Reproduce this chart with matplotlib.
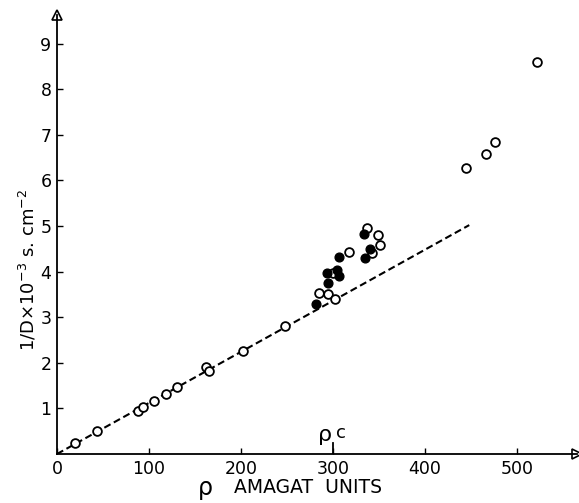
import matplotlib
matplotlib.use('Agg')
import matplotlib.pyplot as plt

# open circles
open_rho = [20, 44, 88, 94, 105, 119, 130, 162, 165, 202, 248, 285, 294, 302, 300,
            317, 337, 342, 349, 351, 444, 466, 476, 522]
open_inv_d = [0.24, 0.51, 0.95, 1.03, 1.16, 1.31, 1.47, 1.91, 1.81, 2.26, 2.81, 3.54, 3.51, 3.39, 3.96,
              4.44, 4.96, 4.41, 4.80, 4.58, 6.28, 6.59, 6.85, 8.60]

# filled circles
filled_rho = [281, 295, 293, 304, 306, 307, 334, 335, 340]
filled_inv_d = [3.29, 3.75, 3.96, 4.04, 3.90, 4.32, 4.83, 4.29, 4.50]

# dashed reference line
line_rho = [0, 448]
line_inv_d = [0, 5.02]

x_ticks = [0, 100, 200, 300, 400, 500]
y_ticks = [1, 2, 3, 4, 5, 6, 7, 8, 9]
rho_c = 300

plt.rcParams['font.family'] = ['DejaVu Sans']

fig = plt.figure(figsize=(5.79, 5.03), dpi=100)
ax = fig.add_axes([0.0984, 0.0974, 0.898, 0.873])

ax.plot(line_rho, line_inv_d, color='black', lw=1.5, dashes=(3.4, 1.8))
ax.plot(open_rho, open_inv_d, 'o', ms=6.3, mfc='white', mec='black', mew=1.3, zorder=3)
ax.plot(filled_rho, filled_inv_d, 'o', ms=6.3, mfc='black', mec='black', mew=1.0, zorder=3)

ax.set_xlim(0, 565)
ax.set_ylim(0, 9.63)
ax.set_xticks(x_ticks)
ax.set_yticks(y_ticks)
ax.tick_params(direction='in', length=4, width=1, labelsize=12.5, pad=4)
for s in ['top', 'right']:
    ax.spines[s].set_visible(False)
for s in ['left', 'bottom']:
    ax.spines[s].set_linewidth(1.3)

# axis arrows
ax.plot(1, 0, '>', ms=7, mfc='white', mec='black', mew=1.2, transform=ax.transAxes, clip_on=False)
ax.plot(0, 1, '^', ms=7, mfc='white', mec='black', mew=1.2, transform=ax.transAxes, clip_on=False)

# rho_c marker
ax.plot([rho_c, rho_c], [0, 0.25], color='black', lw=1.3)
ax.text(rho_c - 1, 0.2, 'ρ', fontsize=16, ha='right', va='bottom')
ax.text(rho_c + 3, 0.27, 'c', fontsize=13, ha='left', va='bottom')

ax.set_ylabel(r'1/D$\times$10$^{-3}$ s. cm$^{-2}$', fontsize=13)
ax.yaxis.set_label_coords(-0.035, 0.42)

fig.text(0.354, 0.006, 'ρ', fontsize=17, ha='center', va='bottom')
fig.text(0.405, 0.012, 'AMAGAT  UNITS', fontsize=13.5, ha='left', va='bottom')

fig.savefig('out.png', dpi=100)
